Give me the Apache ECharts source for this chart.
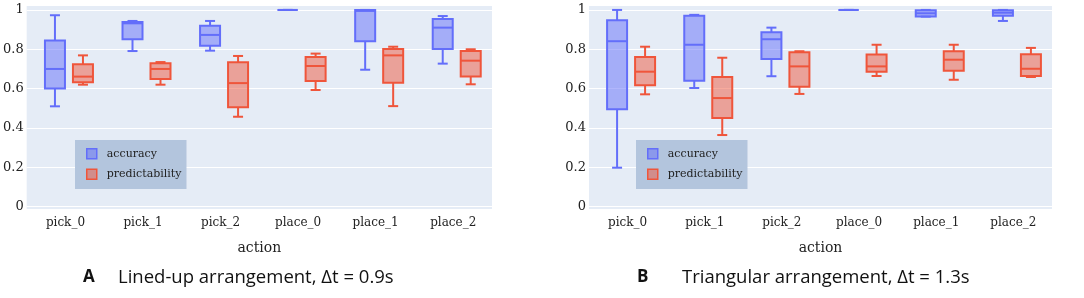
<!DOCTYPE html>
<html>
<head>
<meta charset="utf-8">
<script src="https://cdn.jsdelivr.net/npm/echarts@6/dist/echarts.min.js"></script>
<style>
  html, body { margin: 0; padding: 0; background: #fff; }
  #main { width: 1084px; height: 298px; }
</style>
</head>
<body>
<div id="main"></div>
<script>
// categories
var actions = ['pick_0', 'pick_1', 'pick_2', 'place_0', 'place_1', 'place_2'];
var yTicks = [0, 0.2, 0.4, 0.6, 0.8, 1];

// box stats [min, Q1, median, Q3, max]
// A: lined-up arrangement, dt = 0.9s
var accA = [
    [0.51, 0.60, 0.70, 0.844, 0.973],
    [0.791, 0.851, 0.932, 0.939, 0.944],
    [0.793, 0.818, 0.873, 0.92, 0.944],
    [1, 1, 1, 1, 1],
    [0.696, 0.841, 0.995, 1, 1],
    [0.727, 0.802, 0.91, 0.954, 0.969]
];
var predA = [
    [0.62, 0.632, 0.661, 0.724, 0.769],
    [0.62, 0.649, 0.70, 0.729, 0.735],
    [0.457, 0.505, 0.628, 0.734, 0.766],
    [0.593, 0.639, 0.715, 0.761, 0.778],
    [0.511, 0.63, 0.769, 0.802, 0.813],
    [0.622, 0.661, 0.742, 0.791, 0.80]
];
// B: triangular arrangement, dt = 1.3s
var accB = [
    [0.198, 0.495, 0.841, 0.948, 1],
    [0.603, 0.64, 0.823, 0.971, 0.975],
    [0.663, 0.751, 0.851, 0.886, 0.91],
    [1, 1, 1, 1, 1],
    [0.966, 0.966, 0.983, 0.998, 1],
    [0.944, 0.971, 0.986, 0.998, 1]
];
var predB = [
    [0.571, 0.617, 0.686, 0.761, 0.813],
    [0.364, 0.45, 0.552, 0.659, 0.757],
    [0.573, 0.61, 0.713, 0.785, 0.79],
    [0.664, 0.686, 0.713, 0.773, 0.823],
    [0.645, 0.691, 0.747, 0.79, 0.823],
    [0.659, 0.664, 0.701, 0.775, 0.807]
];

var serif = '"DejaVu Serif", "Liberation Serif", serif';
var sans = '"Open Sans", "Noto Sans", sans-serif';
var blue = '#636efa', red = '#ef553b';
var blueFill = 'rgba(99,110,250,0.5)', redFill = 'rgba(239,85,59,0.5)';

var chart = echarts.init(document.getElementById('main'));

function xAx(i) {
    return {
        type: 'category', gridIndex: i, data: actions,
        name: 'action', nameLocation: 'middle', nameGap: 32,
        nameTextStyle: { fontFamily: serif, fontSize: 14, color: '#222' },
        axisLine: { show: false }, axisTick: { show: false },
        axisLabel: { fontFamily: serif, fontSize: 12, color: '#222', margin: 8 },
        splitLine: { show: false }
    };
}
function yAx(i) {
    return {
        type: 'value', gridIndex: i, min: -0.012, max: 1.02,
        axisLine: { show: false },
        axisTick: { show: false, customValues: yTicks },
        axisLabel: { customValues: yTicks, fontFamily: serif, fontSize: 13, color: '#222', margin: 3,
            formatter: function (v) { return String(+v.toFixed(1)); } },
        splitLine: { show: true, lineStyle: { color: '#fff', width: 1 } }
    };
}

// plotly-like box: whisker caps half the box width
function boxItem(offset, col, fill) {
    return function (params, api) {
        var c = api.value(0);
        var x = api.coord([c, 0])[0] + offset;
        var py = function (k) { return api.coord([c, api.value(k)])[1]; };
        var lo = py(1), q1 = py(2), md = py(3), q3 = py(4), hi = py(5);
        var hw = 10, cw = 5;
        var st = { stroke: col, lineWidth: 2, fill: null };
        return { type: 'group', children: [
            { type: 'line', shape: { x1: x, y1: hi, x2: x, y2: q3 }, style: st },
            { type: 'line', shape: { x1: x, y1: q1, x2: x, y2: lo }, style: st },
            { type: 'line', shape: { x1: x - cw, y1: hi, x2: x + cw, y2: hi }, style: st },
            { type: 'line', shape: { x1: x - cw, y1: lo, x2: x + cw, y2: lo }, style: st },
            { type: 'rect', shape: { x: x - hw, y: q3, width: 2 * hw, height: q1 - q3 },
              style: { fill: fill, stroke: col, lineWidth: 2 } },
            { type: 'line', shape: { x1: x - hw, y1: md, x2: x + hw, y2: md }, style: st }
        ] };
    };
}
function box(name, stats, i, offset, col, fill) {
    return {
        name: name, type: 'custom', xAxisIndex: i, yAxisIndex: i,
        data: stats.map(function (s, k) { return [k].concat(s); }),
        encode: { x: 0, y: [1, 2, 3, 4, 5] },
        itemStyle: { color: fill, borderColor: col },
        renderItem: boxItem(offset, col, fill),
        silent: true
    };
}
function legend(left) {
    return {
        data: [
            { name: 'accuracy', itemStyle: { color: blueFill, borderColor: blue, borderWidth: 1.5 } },
            { name: 'predictability', itemStyle: { color: redFill, borderColor: red, borderWidth: 1.5 } }
        ],
        orient: 'vertical', left: left, top: 140,
        padding: [8, 5, 9, 11], itemGap: 9, itemWidth: 10, itemHeight: 10, icon: 'rect',
        backgroundColor: '#b3c5dd', selectedMode: false,
        textStyle: { fontFamily: serif, fontSize: 11, color: '#222', padding: [0, 0, 0, 5] }
    };
}
function caption(letter, text, left, w) {
    return {
        text: '{b|' + letter + '}{t|' + text + '}', left: left, top: 268, padding: 0,
        textStyle: { rich: {
            b: { fontFamily: sans, fontSize: 17, fontWeight: 'bold', color: '#111', width: w },
            t: { fontFamily: sans, fontSize: 18.5, fontWeight: 'normal', color: '#111' }
        } }
    };
}

chart.setOption({
    animation: false,
    title: [
        caption('A', 'Lined-up arrangement, Δt = 0.9s', 83, 35),
        caption('B', 'Triangular arrangement, Δt = 1.3s', 637, 45)
    ],
    legend: [legend(75), legend(636)],
    grid: [
        { left: 26, right: 592, top: 6, bottom: 89, show: true, backgroundColor: '#e5ecf6', borderWidth: 0 },
        { left: 589, right: 32, top: 6, bottom: 89, show: true, backgroundColor: '#e5ecf6', borderWidth: 0 }
    ],
    xAxis: [xAx(0), xAx(1)],
    yAxis: [yAx(0), yAx(1)],
    series: [
        box('accuracy', accA, 0, -10.5, blue, blueFill),
        box('predictability', predA, 0, 17.5, red, redFill),
        box('accuracy', accB, 1, -10.5, blue, blueFill),
        box('predictability', predB, 1, 17.5, red, redFill)
    ]
});
</script>
</body>
</html>
